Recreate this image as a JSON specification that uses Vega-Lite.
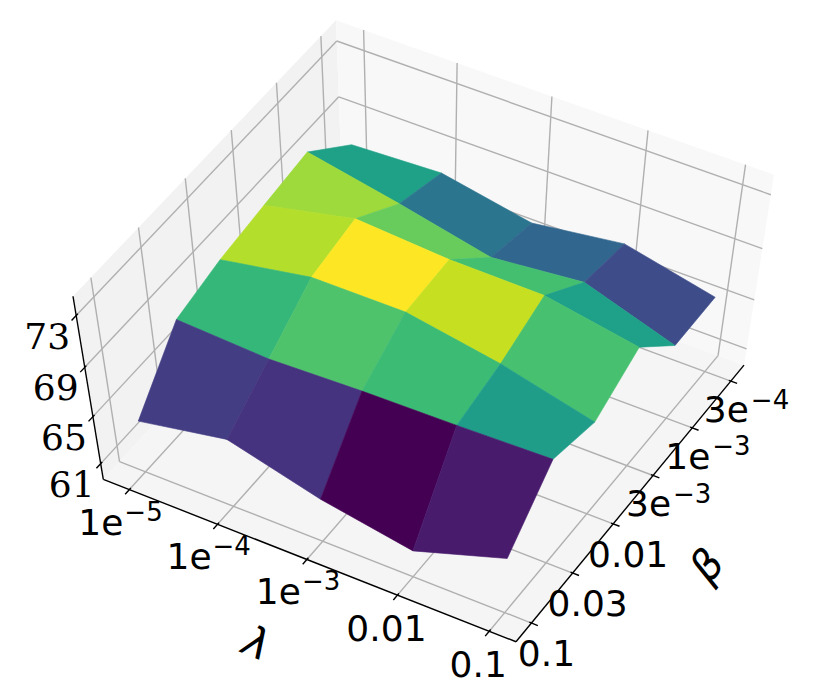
{"$schema":"https://vega.github.io/schema/vega-lite/v6.json","width":830,"height":685,"padding":0,"autosize":{"type":"fit","contains":"padding"},"background":"white","config":{"view":{"stroke":null}},
"data":{"values":[
{"kind":"paneL","id":"p","seq":0,"lam":-0.2982,"beta":-0.3703,"acc":59.622},{"kind":"paneL","id":"p","seq":1,"lam":-0.2982,"beta":5.344,"acc":59.622},{"kind":"paneL","id":"p","seq":2,"lam":-0.2982,"beta":5.344,"acc":74.437},{"kind":"paneL","id":"p","seq":3,"lam":-0.2982,"beta":-0.3703,"acc":74.437},
{"kind":"paneR","id":"p","seq":0,"lam":-0.2982,"beta":5.344,"acc":59.622},{"kind":"paneR","id":"p","seq":1,"lam":4.289,"beta":5.344,"acc":59.622},{"kind":"paneR","id":"p","seq":2,"lam":4.289,"beta":5.344,"acc":74.437},{"kind":"paneR","id":"p","seq":3,"lam":-0.2982,"beta":5.344,"acc":74.437},
{"kind":"paneF","id":"p","seq":0,"lam":-0.2982,"beta":-0.3703,"acc":59.622},{"kind":"paneF","id":"p","seq":1,"lam":4.289,"beta":-0.3703,"acc":59.622},{"kind":"paneF","id":"p","seq":2,"lam":4.289,"beta":5.344,"acc":59.622},{"kind":"paneF","id":"p","seq":3,"lam":-0.2982,"beta":5.344,"acc":59.622},

{"kind":"grid","id":"lv0","seq":0,"lam":-0.2982,"beta":0,"acc":59.622},{"kind":"grid","id":"lv0","seq":1,"lam":-0.2982,"beta":0,"acc":74.437},
{"kind":"grid","id":"lv1","seq":0,"lam":-0.2982,"beta":1,"acc":59.622},{"kind":"grid","id":"lv1","seq":1,"lam":-0.2982,"beta":1,"acc":74.437},
{"kind":"grid","id":"lv2","seq":0,"lam":-0.2982,"beta":2,"acc":59.622},{"kind":"grid","id":"lv2","seq":1,"lam":-0.2982,"beta":2,"acc":74.437},
{"kind":"grid","id":"lv3","seq":0,"lam":-0.2982,"beta":3,"acc":59.622},{"kind":"grid","id":"lv3","seq":1,"lam":-0.2982,"beta":3,"acc":74.437},
{"kind":"grid","id":"lv4","seq":0,"lam":-0.2982,"beta":4,"acc":59.622},{"kind":"grid","id":"lv4","seq":1,"lam":-0.2982,"beta":4,"acc":74.437},
{"kind":"grid","id":"lv5","seq":0,"lam":-0.2982,"beta":5,"acc":59.622},{"kind":"grid","id":"lv5","seq":1,"lam":-0.2982,"beta":5,"acc":74.437},
{"kind":"grid","id":"lh61","seq":0,"lam":-0.2982,"beta":-0.3703,"acc":61},{"kind":"grid","id":"lh61","seq":1,"lam":-0.2982,"beta":5.344,"acc":61},
{"kind":"grid","id":"lh65","seq":0,"lam":-0.2982,"beta":-0.3703,"acc":65},{"kind":"grid","id":"lh65","seq":1,"lam":-0.2982,"beta":5.344,"acc":65},
{"kind":"grid","id":"lh69","seq":0,"lam":-0.2982,"beta":-0.3703,"acc":69},{"kind":"grid","id":"lh69","seq":1,"lam":-0.2982,"beta":5.344,"acc":69},
{"kind":"grid","id":"lh73","seq":0,"lam":-0.2982,"beta":-0.3703,"acc":73},{"kind":"grid","id":"lh73","seq":1,"lam":-0.2982,"beta":5.344,"acc":73},
{"kind":"grid","id":"rv0","seq":0,"lam":0,"beta":5.344,"acc":59.622},{"kind":"grid","id":"rv0","seq":1,"lam":0,"beta":5.344,"acc":74.437},
{"kind":"grid","id":"rv1","seq":0,"lam":1,"beta":5.344,"acc":59.622},{"kind":"grid","id":"rv1","seq":1,"lam":1,"beta":5.344,"acc":74.437},
{"kind":"grid","id":"rv2","seq":0,"lam":2,"beta":5.344,"acc":59.622},{"kind":"grid","id":"rv2","seq":1,"lam":2,"beta":5.344,"acc":74.437},
{"kind":"grid","id":"rv3","seq":0,"lam":3,"beta":5.344,"acc":59.622},{"kind":"grid","id":"rv3","seq":1,"lam":3,"beta":5.344,"acc":74.437},
{"kind":"grid","id":"rv4","seq":0,"lam":4,"beta":5.344,"acc":59.622},{"kind":"grid","id":"rv4","seq":1,"lam":4,"beta":5.344,"acc":74.437},
{"kind":"grid","id":"rh61","seq":0,"lam":-0.2982,"beta":5.344,"acc":61},{"kind":"grid","id":"rh61","seq":1,"lam":4.289,"beta":5.344,"acc":61},
{"kind":"grid","id":"rh65","seq":0,"lam":-0.2982,"beta":5.344,"acc":65},{"kind":"grid","id":"rh65","seq":1,"lam":4.289,"beta":5.344,"acc":65},
{"kind":"grid","id":"rh69","seq":0,"lam":-0.2982,"beta":5.344,"acc":69},{"kind":"grid","id":"rh69","seq":1,"lam":4.289,"beta":5.344,"acc":69},
{"kind":"grid","id":"rh73","seq":0,"lam":-0.2982,"beta":5.344,"acc":73},{"kind":"grid","id":"rh73","seq":1,"lam":4.289,"beta":5.344,"acc":73},
{"kind":"grid","id":"fl0","seq":0,"lam":0,"beta":-0.3703,"acc":59.622},{"kind":"grid","id":"fl0","seq":1,"lam":0,"beta":5.344,"acc":59.622},
{"kind":"grid","id":"fl1","seq":0,"lam":1,"beta":-0.3703,"acc":59.622},{"kind":"grid","id":"fl1","seq":1,"lam":1,"beta":5.344,"acc":59.622},
{"kind":"grid","id":"fl2","seq":0,"lam":2,"beta":-0.3703,"acc":59.622},{"kind":"grid","id":"fl2","seq":1,"lam":2,"beta":5.344,"acc":59.622},
{"kind":"grid","id":"fl3","seq":0,"lam":3,"beta":-0.3703,"acc":59.622},{"kind":"grid","id":"fl3","seq":1,"lam":3,"beta":5.344,"acc":59.622},
{"kind":"grid","id":"fl4","seq":0,"lam":4,"beta":-0.3703,"acc":59.622},{"kind":"grid","id":"fl4","seq":1,"lam":4,"beta":5.344,"acc":59.622},
{"kind":"grid","id":"fb0","seq":0,"lam":-0.2982,"beta":0,"acc":59.622},{"kind":"grid","id":"fb0","seq":1,"lam":4.289,"beta":0,"acc":59.622},
{"kind":"grid","id":"fb1","seq":0,"lam":-0.2982,"beta":1,"acc":59.622},{"kind":"grid","id":"fb1","seq":1,"lam":4.289,"beta":1,"acc":59.622},
{"kind":"grid","id":"fb2","seq":0,"lam":-0.2982,"beta":2,"acc":59.622},{"kind":"grid","id":"fb2","seq":1,"lam":4.289,"beta":2,"acc":59.622},
{"kind":"grid","id":"fb3","seq":0,"lam":-0.2982,"beta":3,"acc":59.622},{"kind":"grid","id":"fb3","seq":1,"lam":4.289,"beta":3,"acc":59.622},
{"kind":"grid","id":"fb4","seq":0,"lam":-0.2982,"beta":4,"acc":59.622},{"kind":"grid","id":"fb4","seq":1,"lam":4.289,"beta":4,"acc":59.622},
{"kind":"grid","id":"fb5","seq":0,"lam":-0.2982,"beta":5,"acc":59.622},{"kind":"grid","id":"fb5","seq":1,"lam":4.289,"beta":5,"acc":59.622},

{"kind":"axis","id":"az","seq":0,"lam":-0.2982,"beta":-0.3703,"acc":74.437},{"kind":"axis","id":"az","seq":1,"lam":-0.2982,"beta":-0.3703,"acc":59.622},
{"kind":"axis","id":"al","seq":0,"lam":-0.2982,"beta":-0.3703,"acc":59.622},{"kind":"axis","id":"al","seq":1,"lam":4.289,"beta":-0.3703,"acc":59.622},
{"kind":"axis","id":"ab","seq":0,"lam":4.289,"beta":-0.3703,"acc":59.622},{"kind":"axis","id":"ab","seq":1,"lam":4.289,"beta":5.344,"acc":59.622},

{"kind":"axis","id":"tl0","seq":0,"lam":0,"beta":-0.336,"acc":59.622},{"kind":"axis","id":"tl0","seq":1,"lam":0,"beta":-0.467,"acc":59.622},
{"kind":"axis","id":"tl1","seq":0,"lam":1,"beta":-0.336,"acc":59.622},{"kind":"axis","id":"tl1","seq":1,"lam":1,"beta":-0.467,"acc":59.622},
{"kind":"axis","id":"tl2","seq":0,"lam":2,"beta":-0.336,"acc":59.622},{"kind":"axis","id":"tl2","seq":1,"lam":2,"beta":-0.467,"acc":59.622},
{"kind":"axis","id":"tl3","seq":0,"lam":3,"beta":-0.336,"acc":59.622},{"kind":"axis","id":"tl3","seq":1,"lam":3,"beta":-0.467,"acc":59.622},
{"kind":"axis","id":"tl4","seq":0,"lam":4,"beta":-0.336,"acc":59.622},{"kind":"axis","id":"tl4","seq":1,"lam":4,"beta":-0.467,"acc":59.622},
{"kind":"axis","id":"tb0","seq":0,"lam":4.266,"beta":0,"acc":59.622},{"kind":"axis","id":"tb0","seq":1,"lam":4.358,"beta":0,"acc":59.622},
{"kind":"axis","id":"tb1","seq":0,"lam":4.266,"beta":1,"acc":59.622},{"kind":"axis","id":"tb1","seq":1,"lam":4.358,"beta":1,"acc":59.622},
{"kind":"axis","id":"tb2","seq":0,"lam":4.266,"beta":2,"acc":59.622},{"kind":"axis","id":"tb2","seq":1,"lam":4.358,"beta":2,"acc":59.622},
{"kind":"axis","id":"tb3","seq":0,"lam":4.266,"beta":3,"acc":59.622},{"kind":"axis","id":"tb3","seq":1,"lam":4.358,"beta":3,"acc":59.622},
{"kind":"axis","id":"tb4","seq":0,"lam":4.266,"beta":4,"acc":59.622},{"kind":"axis","id":"tb4","seq":1,"lam":4.358,"beta":4,"acc":59.622},
{"kind":"axis","id":"tb5","seq":0,"lam":4.266,"beta":5,"acc":59.622},{"kind":"axis","id":"tb5","seq":1,"lam":4.358,"beta":5,"acc":59.622},
{"kind":"axis","id":"tz61","seq":0,"lam":-0.2982,"beta":-0.336,"acc":61},{"kind":"axis","id":"tz61","seq":1,"lam":-0.2982,"beta":-0.467,"acc":61},
{"kind":"axis","id":"tz65","seq":0,"lam":-0.2982,"beta":-0.336,"acc":65},{"kind":"axis","id":"tz65","seq":1,"lam":-0.2982,"beta":-0.467,"acc":65},
{"kind":"axis","id":"tz69","seq":0,"lam":-0.2982,"beta":-0.336,"acc":69},{"kind":"axis","id":"tz69","seq":1,"lam":-0.2982,"beta":-0.467,"acc":69},
{"kind":"axis","id":"tz73","seq":0,"lam":-0.2982,"beta":-0.336,"acc":73},{"kind":"axis","id":"tz73","seq":1,"lam":-0.2982,"beta":-0.467,"acc":73},

{"kind":"face","id":"f40","seq":0,"lam":0,"beta":4,"acc":70.18},{"kind":"face","id":"f40","seq":1,"lam":1,"beta":4,"acc":68.81},{"kind":"face","id":"f40","seq":2,"lam":1,"beta":5,"acc":67.62},{"kind":"face","id":"f40","seq":3,"lam":0,"beta":5,"acc":67.31},
{"kind":"face","id":"f41","seq":0,"lam":1,"beta":4,"acc":68.81},{"kind":"face","id":"f41","seq":1,"lam":2,"beta":4,"acc":67.27},{"kind":"face","id":"f41","seq":2,"lam":2,"beta":5,"acc":66.31},{"kind":"face","id":"f41","seq":3,"lam":1,"beta":5,"acc":67.62},
{"kind":"face","id":"f42","seq":0,"lam":2,"beta":4,"acc":67.27},{"kind":"face","id":"f42","seq":1,"lam":3,"beta":4,"acc":67.97},{"kind":"face","id":"f42","seq":2,"lam":3,"beta":5,"acc":67.27},{"kind":"face","id":"f42","seq":3,"lam":2,"beta":5,"acc":66.31},
{"kind":"face","id":"f43","seq":0,"lam":3,"beta":4,"acc":67.97},{"kind":"face","id":"f43","seq":1,"lam":4,"beta":4,"acc":65.69},{"kind":"face","id":"f43","seq":2,"lam":4,"beta":5,"acc":65.73},{"kind":"face","id":"f43","seq":3,"lam":3,"beta":5,"acc":67.27},
{"kind":"face","id":"f30","seq":0,"lam":0,"beta":3,"acc":69.70},{"kind":"face","id":"f30","seq":1,"lam":1,"beta":3,"acc":71.24},{"kind":"face","id":"f30","seq":2,"lam":1,"beta":4,"acc":68.81},{"kind":"face","id":"f30","seq":3,"lam":0,"beta":4,"acc":70.18},
{"kind":"face","id":"f31","seq":0,"lam":1,"beta":3,"acc":71.24},{"kind":"face","id":"f31","seq":1,"lam":2,"beta":3,"acc":70.76},{"kind":"face","id":"f31","seq":2,"lam":2,"beta":4,"acc":67.27},{"kind":"face","id":"f31","seq":3,"lam":1,"beta":4,"acc":68.81},
{"kind":"face","id":"f32","seq":0,"lam":2,"beta":3,"acc":70.76},{"kind":"face","id":"f32","seq":1,"lam":3,"beta":3,"acc":70.69},{"kind":"face","id":"f32","seq":2,"lam":3,"beta":4,"acc":67.97},{"kind":"face","id":"f32","seq":3,"lam":2,"beta":4,"acc":67.27},
{"kind":"face","id":"f33","seq":0,"lam":3,"beta":3,"acc":70.69},{"kind":"face","id":"f33","seq":1,"lam":4,"beta":3,"acc":69.43},{"kind":"face","id":"f33","seq":2,"lam":4,"beta":4,"acc":65.69},{"kind":"face","id":"f33","seq":3,"lam":3,"beta":4,"acc":67.97},
{"kind":"face","id":"f20","seq":0,"lam":0,"beta":2,"acc":69.19},{"kind":"face","id":"f20","seq":1,"lam":1,"beta":2,"acc":70.48},{"kind":"face","id":"f20","seq":2,"lam":1,"beta":3,"acc":71.24},{"kind":"face","id":"f20","seq":3,"lam":0,"beta":3,"acc":69.70},
{"kind":"face","id":"f21","seq":0,"lam":1,"beta":2,"acc":70.48},{"kind":"face","id":"f21","seq":1,"lam":2,"beta":2,"acc":70.50},{"kind":"face","id":"f21","seq":2,"lam":2,"beta":3,"acc":70.76},{"kind":"face","id":"f21","seq":3,"lam":1,"beta":3,"acc":71.24},
{"kind":"face","id":"f22","seq":0,"lam":2,"beta":2,"acc":70.50},{"kind":"face","id":"f22","seq":1,"lam":3,"beta":2,"acc":69.24},{"kind":"face","id":"f22","seq":2,"lam":3,"beta":3,"acc":70.69},{"kind":"face","id":"f22","seq":3,"lam":2,"beta":3,"acc":70.76},
{"kind":"face","id":"f23","seq":0,"lam":3,"beta":2,"acc":69.24},{"kind":"face","id":"f23","seq":1,"lam":4,"beta":2,"acc":67.44},{"kind":"face","id":"f23","seq":2,"lam":4,"beta":3,"acc":69.43},{"kind":"face","id":"f23","seq":3,"lam":3,"beta":3,"acc":70.69},
{"kind":"face","id":"f10","seq":0,"lam":0,"beta":1,"acc":68.29},{"kind":"face","id":"f10","seq":1,"lam":1,"beta":1,"acc":67.93},{"kind":"face","id":"f10","seq":2,"lam":1,"beta":2,"acc":70.48},{"kind":"face","id":"f10","seq":3,"lam":0,"beta":2,"acc":69.19},
{"kind":"face","id":"f11","seq":0,"lam":1,"beta":1,"acc":67.93},{"kind":"face","id":"f11","seq":1,"lam":2,"beta":1,"acc":68.20},{"kind":"face","id":"f11","seq":2,"lam":2,"beta":2,"acc":70.50},{"kind":"face","id":"f11","seq":3,"lam":1,"beta":2,"acc":70.48},
{"kind":"face","id":"f12","seq":0,"lam":2,"beta":1,"acc":68.20},{"kind":"face","id":"f12","seq":1,"lam":3,"beta":1,"acc":68.33},{"kind":"face","id":"f12","seq":2,"lam":3,"beta":2,"acc":69.24},{"kind":"face","id":"f12","seq":3,"lam":2,"beta":2,"acc":70.50},
{"kind":"face","id":"f13","seq":0,"lam":3,"beta":1,"acc":68.33},{"kind":"face","id":"f13","seq":1,"lam":4,"beta":1,"acc":68.54},{"kind":"face","id":"f13","seq":2,"lam":4,"beta":2,"acc":67.44},{"kind":"face","id":"f13","seq":3,"lam":3,"beta":2,"acc":69.24},
{"kind":"face","id":"f00","seq":0,"lam":0,"beta":0,"acc":63.99},{"kind":"face","id":"f00","seq":1,"lam":1,"beta":0,"acc":65.40},{"kind":"face","id":"f00","seq":2,"lam":1,"beta":1,"acc":67.93},{"kind":"face","id":"f00","seq":3,"lam":0,"beta":1,"acc":68.29},
{"kind":"face","id":"f01","seq":0,"lam":1,"beta":0,"acc":65.40},{"kind":"face","id":"f01","seq":1,"lam":2,"beta":0,"acc":63.34},{"kind":"face","id":"f01","seq":2,"lam":2,"beta":1,"acc":68.20},{"kind":"face","id":"f01","seq":3,"lam":1,"beta":1,"acc":67.93},
{"kind":"face","id":"f02","seq":0,"lam":2,"beta":0,"acc":63.34},{"kind":"face","id":"f02","seq":1,"lam":3,"beta":0,"acc":61.95},{"kind":"face","id":"f02","seq":2,"lam":3,"beta":1,"acc":68.33},{"kind":"face","id":"f02","seq":3,"lam":2,"beta":1,"acc":68.20},
{"kind":"face","id":"f03","seq":0,"lam":3,"beta":0,"acc":61.95},{"kind":"face","id":"f03","seq":1,"lam":4,"beta":0,"acc":64.49},{"kind":"face","id":"f03","seq":2,"lam":4,"beta":1,"acc":68.54},{"kind":"face","id":"f03","seq":3,"lam":3,"beta":1,"acc":68.33},

{"kind":"zlab","label":"61","lam":-0.2982,"beta":-0.3703,"acc":61},{"kind":"zlab","label":"65","lam":-0.2982,"beta":-0.3703,"acc":65},{"kind":"zlab","label":"69","lam":-0.2982,"beta":-0.3703,"acc":69},{"kind":"zlab","label":"73","lam":-0.2982,"beta":-0.3703,"acc":73},
{"kind":"lexp","label":"1e","sup":"−5","lam":0,"beta":-0.3703,"acc":59.622},{"kind":"lexp","label":"1e","sup":"−4","lam":1,"beta":-0.3703,"acc":59.622},{"kind":"lexp","label":"1e","sup":"−3","lam":2,"beta":-0.3703,"acc":59.622},
{"kind":"lplain","label":"0.01","lam":3,"beta":-0.3703,"acc":59.622},{"kind":"lplain","label":"0.1","lam":4,"beta":-0.3703,"acc":59.622},
{"kind":"bplain","label":"0.1","lam":4.289,"beta":0,"acc":59.622},{"kind":"bplain","label":"0.03","lam":4.289,"beta":1,"acc":59.622},{"kind":"bplain","label":"0.01","lam":4.289,"beta":2,"acc":59.622},
{"kind":"bexp","label":"3e","sup":"−3","lam":4.289,"beta":3,"acc":59.622},{"kind":"bexp","label":"1e","sup":"−3","lam":4.289,"beta":4,"acc":59.622},{"kind":"bexp","label":"3e","sup":"−4","lam":4.289,"beta":5,"acc":59.622},
{"kind":"ltitle","label":"λ","lam":2,"beta":-0.3703,"acc":59.622},{"kind":"btitle","label":"β","lam":4.289,"beta":2.5,"acc":59.622}
]},
"transform":[
{"calculate":"0.065+0.218*datum.lam","as":"u"},
{"calculate":"0.0648+0.175*datum.beta","as":"v"},
{"calculate":"0.093+0.0675*(datum.acc-61)","as":"w"},
{"calculate":"1-0.0303*datum.u+0.0468*datum.v-0.0867*datum.w","as":"d"},
{"calculate":"(103.3+397.07*datum.u+255.91*datum.v-36.63*datum.w)/datum.d","as":"px"},
{"calculate":"(480+143.23*datum.u-251.49*datum.v-209.03*datum.w)/datum.d","as":"py"}
],
"encoding":{
"x":{"field":"px","type":"quantitative","scale":{"domain":[0,830],"nice":false,"zero":false},"axis":null},
"y":{"field":"py","type":"quantitative","scale":{"domain":[685,0],"nice":false,"zero":false},"axis":null}
},
"layer":[
{"transform":[{"filter":"datum.kind==='paneL'"}],"mark":{"type":"line","filled":true,"fill":"#f2f2f2","stroke":null,"interpolate":"linear-closed"},"encoding":{"order":{"field":"seq"}}},
{"transform":[{"filter":"datum.kind==='paneR'"}],"mark":{"type":"line","filled":true,"fill":"#f8f8f8","stroke":null,"interpolate":"linear-closed"},"encoding":{"order":{"field":"seq"}}},
{"transform":[{"filter":"datum.kind==='paneF'"}],"mark":{"type":"line","filled":true,"fill":"#f5f5f5","stroke":null,"interpolate":"linear-closed"},"encoding":{"order":{"field":"seq"}}},
{"transform":[{"filter":"datum.kind==='grid'"}],"mark":{"type":"line","color":"#b0b0b0","strokeWidth":1.4},"encoding":{"detail":{"field":"id"},"order":{"field":"seq"}}},
{"transform":[{"filter":"datum.kind==='axis'"}],"mark":{"type":"line","color":"#000000","strokeWidth":1.4},"encoding":{"detail":{"field":"id"},"order":{"field":"seq"}}},
{"transform":[{"filter":"datum.kind==='face'"},{"joinaggregate":[{"op":"mean","field":"acc","as":"meanAcc"}],"groupby":["id"]}],
"mark":{"type":"line","filled":true,"strokeWidth":0.6,"interpolate":"linear-closed"},
"encoding":{"detail":{"field":"id"},"order":{"field":"seq"},
"fill":{"field":"meanAcc","type":"quantitative","scale":{"scheme":"viridis"},"legend":null},
"stroke":{"field":"meanAcc","type":"quantitative","scale":{"scheme":"viridis"},"legend":null}}},
{"transform":[{"filter":"datum.kind==='zlab'"}],"mark":{"type":"text","font":"DejaVu Serif","fontSize":36,"align":"center","baseline":"alphabetic","dx":-29,"dy":33,"color":"#000"},"encoding":{"text":{"field":"label"}}},
{"transform":[{"filter":"datum.kind==='lexp'"}],"mark":{"type":"text","font":"DejaVu Sans","fontSize":36,"align":"right","baseline":"alphabetic","dx":-6,"dy":45,"color":"#000"},"encoding":{"text":{"field":"label"}}},
{"transform":[{"filter":"datum.kind==='lexp'"}],"mark":{"type":"text","font":"DejaVu Sans","fontSize":26,"align":"left","baseline":"alphabetic","dx":-5,"dy":31,"color":"#000"},"encoding":{"text":{"field":"sup"}}},
{"transform":[{"filter":"datum.kind==='lplain'"}],"mark":{"type":"text","font":"DejaVu Sans","fontSize":36,"align":"center","baseline":"alphabetic","dx":-11,"dy":46,"color":"#000"},"encoding":{"text":{"field":"label"}}},
{"transform":[{"filter":"datum.kind==='bplain'"}],"mark":{"type":"text","font":"DejaVu Sans","fontSize":36,"align":"center","baseline":"alphabetic","dx":15,"dy":43,"color":"#000"},"encoding":{"text":{"field":"label"}}},
{"transform":[{"filter":"datum.kind==='bexp'"}],"mark":{"type":"text","font":"DejaVu Sans","fontSize":36,"align":"right","baseline":"alphabetic","dx":18,"dy":41,"color":"#000"},"encoding":{"text":{"field":"label"}}},
{"transform":[{"filter":"datum.kind==='bexp'"}],"mark":{"type":"text","font":"DejaVu Sans","fontSize":26,"align":"left","baseline":"alphabetic","dx":20,"dy":27.5,"color":"#000"},"encoding":{"text":{"field":"sup"}}},
{"transform":[{"filter":"datum.kind==='ltitle'"}],"mark":{"type":"text","font":"DejaVu Sans","fontStyle":"italic","fontSize":42,"align":"center","baseline":"middle","angle":22,"dx":-15,"dy":98,"color":"#000"},"encoding":{"text":{"field":"label"}}},
{"transform":[{"filter":"datum.kind==='btitle'"}],"mark":{"type":"text","font":"DejaVu Sans","fontStyle":"italic","fontSize":42,"align":"center","baseline":"middle","angle":310,"dx":-3,"dy":100,"color":"#000"},"encoding":{"text":{"field":"label"}}}
]}
